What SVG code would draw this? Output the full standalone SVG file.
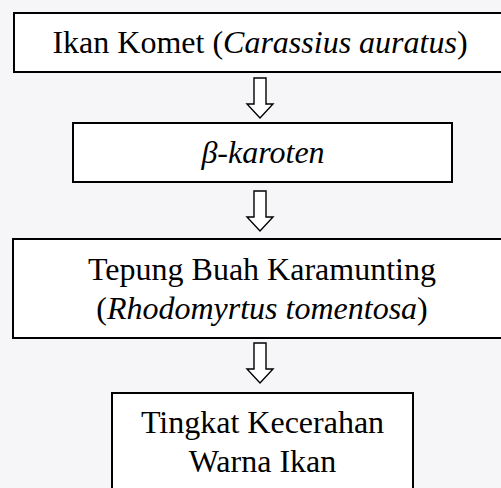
<svg xmlns="http://www.w3.org/2000/svg" width="501" height="488" viewBox="0 0 501 488">
<style>
.bg{fill:#f6f6f8}
.box{fill:#ffffff;stroke:#000;stroke-width:2}
.t{font-family:"Liberation Serif","Times New Roman",serif;font-size:32px;fill:#000;text-anchor:middle}
.i{font-style:italic}
.arr{fill:#ffffff;stroke:#000;stroke-width:1.4;stroke-linejoin:miter}
</style>
<defs>
<path id="downArrow" d="M-6,0 L6,0 L6,26 L13,26 L0,40 L-13,26 L-6,26 Z"/>
</defs>
<rect class="bg" x="0" y="0" width="501" height="488"/>
<g id="connectors">
<use href="#downArrow" class="arr" transform="translate(260,78)"/>
<use href="#downArrow" class="arr" transform="translate(260,191)"/>
<use href="#downArrow" class="arr" transform="translate(260,343)"/>
</g>
<g id="node-ikan-komet">
<rect class="box" x="14" y="13" width="494" height="59"/>
<text class="t" x="260" y="53">Ikan Komet (<tspan class="i">Carassius auratus</tspan>)</text>
</g>
<g id="node-beta-karoten">
<rect class="box" x="73" y="123" width="379" height="59"/>
<text class="t i" x="263" y="163">β-karoten</text>
</g>
<g id="node-tepung">
<rect class="box" x="13" y="239" width="498" height="99"/>
<text class="t" x="262" y="280">Tepung Buah Karamunting</text>
<text class="t" x="262" y="319">(<tspan class="i">Rhodomyrtus tomentosa</tspan>)</text>
</g>
<g id="node-tingkat">
<rect class="box" x="112" y="393" width="301" height="110"/>
<text class="t" x="262.5" y="433">Tingkat Kecerahan</text>
<text class="t" x="262.5" y="472">Warna Ikan</text>
</g>
</svg>
